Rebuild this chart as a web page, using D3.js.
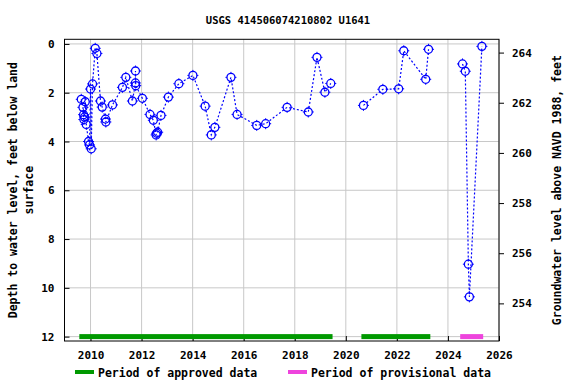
<!DOCTYPE html>
<html>
<head>
<meta charset="utf-8">
<script src="https://cdn.jsdelivr.net/npm/d3@7"></script>
<style>
body { margin: 0; background: #fff; }
text { font-family: "DejaVu Sans Mono", monospace; font-weight: bold; }
</style>
</head>
<body>
<div id="chart"></div>
<script>
// measurement dates (decimal years) and depth below land surface, feet
var years = [2009.637, 2009.703, 2009.727, 2009.74, 2009.766, 2009.793, 2009.832, 2009.922, 2009.961,
    2010.0, 2010.027, 2010.078, 2010.184, 2010.25, 2010.39, 2010.457, 2010.586, 2010.6, 2010.86,
    2011.25, 2011.383, 2011.64, 2011.758, 2011.76, 2011.77, 2012.03, 2012.33, 2012.46, 2012.57,
    2012.59, 2012.63, 2012.76, 2013.05, 2013.46, 2014.01, 2014.49, 2014.73, 2014.87, 2015.5,
    2015.74, 2016.51, 2016.86, 2017.7, 2018.53, 2018.87, 2019.18, 2019.41, 2020.69, 2021.45,
    2022.07, 2022.27, 2023.13, 2023.24, 2024.57, 2024.68, 2024.8, 2024.84, 2025.33];
var depths = [2.27, 2.6, 2.9, 3.1, 3.0, 2.37, 3.3, 4.0, 4.14,
    1.85, 4.3, 1.64, 0.18, 0.39, 2.34, 2.59, 3.08, 3.2, 2.5,
    1.78, 1.37, 2.34, 1.6, 1.11, 1.71, 2.23, 2.89, 3.13, 3.73,
    3.66, 3.62, 2.93, 2.18, 1.63, 1.29, 2.55, 3.73, 3.42, 1.37,
    2.89, 3.34, 3.27, 2.6, 2.79, 0.55, 1.98, 1.62, 2.52, 1.86,
    1.84, 0.28, 1.45, 0.22, 0.82, 1.12, 9.03, 10.37, 0.1];

var approvedPeriods = [[2009.56, 2019.48], [2020.61, 2023.31]];
var provisionalPeriods = [[2024.48, 2025.38]];

var xTicks = [2010, 2012, 2014, 2016, 2018, 2020, 2022, 2024, 2026];
var yTicks = [0, 2, 4, 6, 8, 10, 12];
var y2Ticks = [254, 256, 258, 260, 262, 264];

var W = 576, H = 384;
var pLeft = 64.5, pRight = 499, pTop = 39.3, pBottom = 341;

var svg = d3.select("#chart").append("svg")
    .attr("width", W).attr("height", H);

var x = d3.scaleLinear().domain([2008.98, 2026.0]).range([pLeft, pRight]);
var y = d3.scaleLinear().domain([-0.19, 12.18]).range([pTop, pBottom]);
var y2 = d3.scaleLinear().domain([264.53, 252.5]).range([pTop, pBottom]);

// grid
var grid = svg.append("g").attr("stroke", "#c8c8c8").attr("stroke-width", 1);
grid.selectAll(".gx").data(xTicks).enter().append("line")
    .attr("x1", d => x(d)).attr("x2", d => x(d))
    .attr("y1", pTop).attr("y2", pBottom);
grid.selectAll(".gy").data(yTicks).enter().append("line")
    .attr("x1", pLeft).attr("x2", pRight)
    .attr("y1", d => y(d)).attr("y2", d => y(d));

// axes
var xAxis = svg.append("g")
    .attr("transform", "translate(0," + pBottom + ")")
    .call(d3.axisBottom(x).tickValues(xTicks).tickFormat(d3.format("d")).tickSizeInner(-5).tickSizeOuter(0).tickPadding(10));
var yAxis = svg.append("g")
    .attr("transform", "translate(" + pLeft + ",0)")
    .call(d3.axisLeft(y).tickValues(yTicks).tickSizeInner(-5).tickSizeOuter(0).tickPadding(10));
var y2Axis = svg.append("g")
    .attr("transform", "translate(" + pRight + ",0)")
    .call(d3.axisRight(y2).tickValues(y2Ticks).tickSizeInner(5).tickSizeOuter(0).tickPadding(8));
[xAxis, yAxis, y2Axis].forEach(function(a) {
    a.select(".domain").remove();
    a.selectAll("text").attr("font-size", 11).attr("font-family", "DejaVu Sans Mono").attr("font-weight", "bold").attr("fill", "#000");
    a.selectAll("line").attr("stroke", "#000");
});

// frame
svg.append("rect")
    .attr("x", pLeft).attr("y", pTop)
    .attr("width", pRight - pLeft).attr("height", pBottom - pTop)
    .attr("fill", "none").attr("stroke", "#000").attr("stroke-width", 1);

// period bars
var barY = y(12);
svg.selectAll(".appr").data(approvedPeriods).enter().append("rect")
    .attr("x", d => x(d[0])).attr("width", d => x(d[1]) - x(d[0]))
    .attr("y", barY - 2.5).attr("height", 5).attr("fill", "#009900");
svg.selectAll(".prov").data(provisionalPeriods).enter().append("rect")
    .attr("x", d => x(d[0])).attr("width", d => x(d[1]) - x(d[0]))
    .attr("y", barY - 2.5).attr("height", 5).attr("fill", "#ee44dd");

// data line, broken where the gap is over a year
var pts = years.map(function(t, i) { return {t: t, d: depths[i]}; });
var segs = [[]];
pts.forEach(function(p, i) {
    if (i > 0 && p.t - pts[i - 1].t > 1.0) segs.push([]);
    segs[segs.length - 1].push(p);
});
var line = d3.line().x(d => x(d.t)).y(d => y(d.d));
svg.selectAll(".seg").data(segs).enter().append("path")
    .attr("d", line)
    .attr("fill", "none").attr("stroke", "#0000ff")
    .attr("stroke-width", 1.2).attr("stroke-dasharray", "2,2");

var marks = svg.selectAll(".pt").data(pts).enter().append("g")
    .attr("transform", d => "translate(" + x(d.t) + "," + y(d.d) + ")");
marks.append("circle").attr("r", 4)
    .attr("fill", "none").attr("stroke", "#0000ff").attr("stroke-width", 1.3);
marks.append("path").attr("d", "M0,-5.5V-4M0,4V5.5M-5.5,0H-4M4,0H5.5")
    .attr("stroke", "#0000ff").attr("stroke-width", 1);

// title and labels
svg.append("text").attr("x", 288).attr("y", 24).attr("text-anchor", "middle")
    .attr("font-size", 10.5).text("USGS 414506074210802 U1641");

var cy = (pTop + pBottom) / 2;
svg.append("text").attr("transform", "translate(17," + cy + ") rotate(-90)")
    .attr("text-anchor", "middle").attr("font-size", 11.5)
    .text("Depth to water level, feet below land");
svg.append("text").attr("transform", "translate(33," + cy + ") rotate(-90)")
    .attr("text-anchor", "middle").attr("font-size", 11.5)
    .text("surface");
svg.append("text").attr("transform", "translate(561," + cy + ") rotate(-90)")
    .attr("text-anchor", "middle").attr("font-size", 11.5)
    .text("Groundwater level above NAVD 1988, feet");

// legend
var lg = svg.append("g");
lg.append("rect").attr("x", 75).attr("y", 370).attr("width", 19).attr("height", 4).attr("fill", "#009900");
lg.append("text").attr("x", 98).attr("y", 377).attr("font-size", 11.5).text("Period of approved data");
lg.append("rect").attr("x", 288).attr("y", 370).attr("width", 19).attr("height", 4).attr("fill", "#ee44dd");
lg.append("text").attr("x", 311).attr("y", 377).attr("font-size", 11.5).text("Period of provisional data");
</script>
</body>
</html>
